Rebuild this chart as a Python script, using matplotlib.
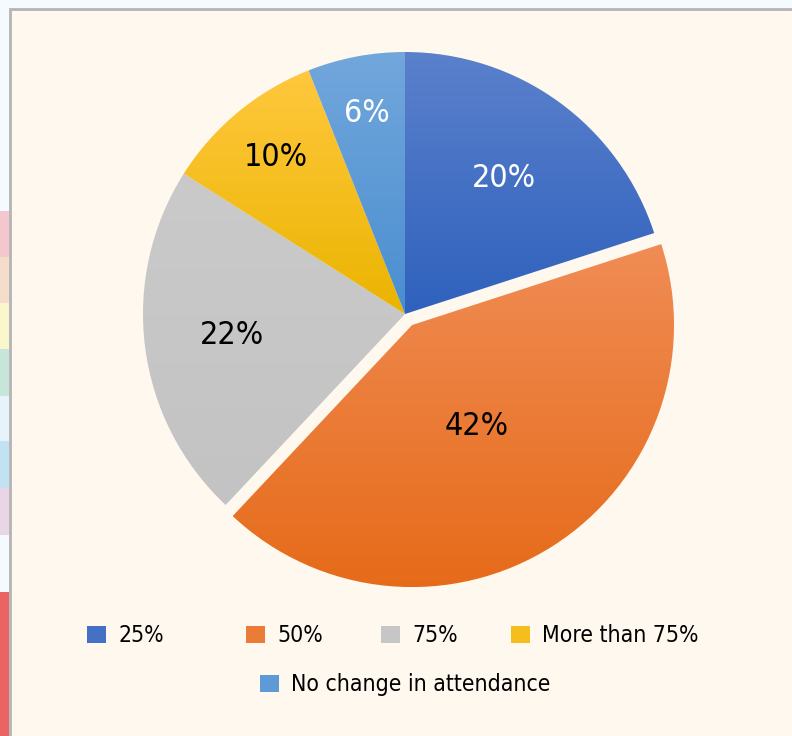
import numpy as np
import matplotlib
matplotlib.use("Agg")
import matplotlib.pyplot as plt
from matplotlib import font_manager
from matplotlib.patches import Rectangle, Patch
from matplotlib.colors import to_rgb

# ---------------------------------------------------------------
# data
# ---------------------------------------------------------------
categories = ['25%', '50%', '75%', 'More than 75%', 'No change in attendance']
shares = [20, 42, 22, 10, 6]
slice_labels = ['20%', '42%', '22%', '10%', '6%']

# gradient colours per slice (top, bottom)
top_colors = ['#5B81CC', '#F08C55', '#C9CAC9', '#FFC83E', '#72A7DC']
bottom_colors = ['#2F61BD', '#E66B19', '#C2C3C2', '#EBB400', '#4A8ED0']
label_colors = ['white', 'black', 'black', 'black', 'white']
label_dist = [0.64, 0.46, 0.665, 0.775, 0.78]
explode = [0, 0.05, 0, 0, 0]

W, H = 792, 736
CX, CY, R = 405, 314, 262

# condensed font if we have one
names = {f.name for f in font_manager.fontManager.ttflist}
if 'Liberation Sans Narrow' in names:
    FONT = dict(family=['Liberation Sans Narrow', 'DejaVu Sans'])
else:
    FONT = dict(family=['DejaVu Sans'], stretch='condensed')

fig = plt.figure(figsize=(W / 100, H / 100), dpi=100)
fig.patch.set_facecolor('#F5FAFF')

# slide background + frame (runs off the right and bottom edges)
fig.add_artist(Rectangle((10 / W, -0.1), 1.2, 1.1 - 9 / H, transform=fig.transFigure,
                         facecolor='#FFF8EE', edgecolor='#B4B4B4', linewidth=2, zorder=0))

# colour strips peeking in from the left
strips = [(211, 257, '#F4C7CE'), (257, 303, '#F4DECB'), (303, 349, '#FAF7CD'),
          (349, 396, '#C5E6D8'), (396, 441, '#E6F3FB'), (441, 488, '#C2E2F3'),
          (488, 535, '#E8D5E6'), (592, 736, '#EB6464')]
for y0, y1, c in strips:
    fig.add_artist(Rectangle((0, 1 - y1 / H), 9.3 / W, (y1 - y0) / H,
                             transform=fig.transFigure, facecolor=c, edgecolor='none', zorder=1))

ax = fig.add_axes([0, 0, 1, 1])
ax.set_facecolor('none')
ax.axis('off')

wedges, _ = ax.pie(shares, startangle=90, counterclock=False, explode=explode,
                   colors=bottom_colors, radius=1.0,
                   wedgeprops=dict(linewidth=0))

ax.set_xlim(-CX / R, (W - CX) / R)
ax.set_ylim(-(H - CY) / R, CY / R)
ax.set_aspect('auto')
ax.set_autoscale_on(False)

# vertical gradient fill clipped to each wedge
for w, ct, cb in zip(wedges, top_colors, bottom_colors):
    w.set_facecolor('none')
    ext = w.get_path().get_extents().transformed(w.get_patch_transform())
    t = np.linspace(0, 1, 256)[:, None]
    img = (1 - t) * np.array(to_rgb(ct)) + t * np.array(to_rgb(cb))
    im = ax.imshow(img[:, None, :], extent=(ext.x0, ext.x1, ext.y0, ext.y1),
                   origin='upper', aspect='auto', interpolation='bilinear', zorder=2)
    im.set_clip_path(w)

# slice labels
for w, lab, col, d in zip(wedges, slice_labels, label_colors, label_dist):
    ang = np.deg2rad((w.theta1 + w.theta2) / 2)
    cx, cy = w.center
    ax.text(cx + d * np.cos(ang), cy + d * np.sin(ang), lab, color=col,
            fontsize=23, ha='center', va='center', zorder=5, **FONT)

# legend, laid out like the original
legend_pos = [(87, 636), (246, 636), (381, 636), (511, 636), (260, 685)]
for cat, ct, cb, (lx, ly) in zip(categories, top_colors, bottom_colors, legend_pos):
    mid = tuple((np.array(to_rgb(ct)) + np.array(to_rgb(cb))) / 2)
    fig.legend(handles=[Patch(facecolor=mid, edgecolor='none')], labels=[cat],
               loc='center left', bbox_to_anchor=(lx / W - 0.011, 1 - ly / H),
               frameon=False, handlelength=0.8, handleheight=0.8,
               handletextpad=0.55, borderaxespad=0,
               prop=font_manager.FontProperties(size=16.5, **FONT))

fig.savefig('out.png', dpi=100, facecolor=fig.get_facecolor())
